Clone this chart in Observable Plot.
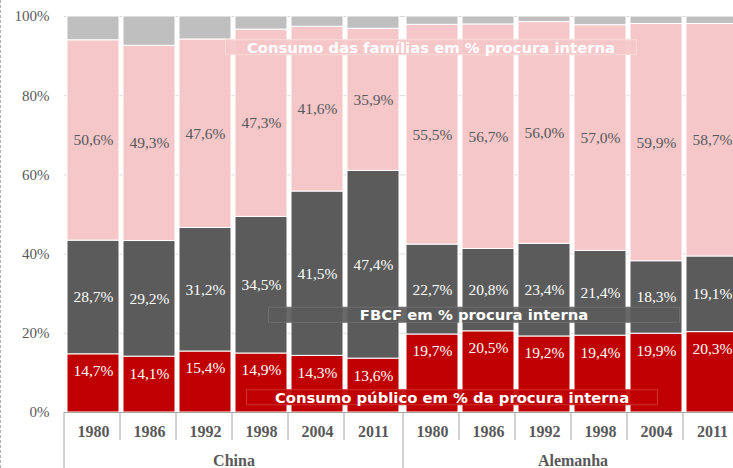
<!DOCTYPE html>
<html><head><meta charset="utf-8">
<script src="https://cdn.jsdelivr.net/npm/d3@7"></script>
<script src="https://cdn.jsdelivr.net/npm/@observablehq/plot@0.6"></script>
<style>
body{margin:0;background:#fff;overflow:hidden}
#wrap{position:relative;width:733px;height:468px;overflow:hidden}
#wrap svg{display:block}
#border{position:absolute;left:0;top:0;width:0;height:468px;border-left:1px dashed #b0b0b0;z-index:2}
</style></head><body><div id="wrap"><div id="border"></div></div>
<script>
// ---- data ----
const countries = ["China", "Alemanha"];
const years = ["1980", "1986", "1992", "1998", "2004", "2011"];
const seriesNames = ["Consumo público", "FBCF", "Consumo das famílias", "Outros"];
const publicoChina    = [14.7, 14.1, 15.4, 14.9, 14.3, 13.6];
const publicoAlemanha = [19.7, 20.5, 19.2, 19.4, 19.9, 20.3];
const fbcfChina       = [28.7, 29.2, 31.2, 34.5, 41.5, 47.4];
const fbcfAlemanha    = [22.7, 20.8, 23.4, 21.4, 18.3, 19.1];
const familiasChina    = [50.6, 49.3, 47.6, 47.3, 41.6, 35.9];
const familiasAlemanha = [55.5, 56.7, 56.0, 57.0, 59.9, 58.7];
const outrosChina      = [6.0, 7.4, 5.8, 3.3, 2.6, 3.1];
const outrosAlemanha   = [2.1, 2.0, 1.4, 2.2, 1.9, 1.9];
const yTicks = [0, 20, 40, 60, 80, 100];
const annotLabels = ["Consumo das famílias em % procura interna", "FBCF em % procura interna", "Consumo público em % da procura interna"];
const annotCountry = ["Alemanha", "Alemanha", "Alemanha"];
const annotYear = ["1980", "1980", "1980"];
const annotY = [92.05, 24.5, 3.66];

// ---- table ----
const bySeries = {
  China: [publicoChina, fbcfChina, familiasChina, outrosChina],
  Alemanha: [publicoAlemanha, fbcfAlemanha, familiasAlemanha, outrosAlemanha]
};
const rows = [];
countries.forEach(c => years.forEach((yr, i) => seriesNames.forEach((s, k) => {
  rows.push({country: c, year: yr, series: s, value: bySeries[c][k][i]});
})));
const fmt = v => v.toFixed(1).replace(".", ",") + "%";
const colors = ["#C00000", "#5A5B5A", "#F5C7C9", "#BFBFBF"];
const annotFill = ["#F5C7C9", "#5A5B5A", "#C00000"];
const annotStroke = ["#f9dadb", "#6e6e6e", "#cf2f2f"];
const annotDx = [-1.5, 41.5, 19.5];
const serif = "Liberation Serif";
const sans = "DejaVu Sans";

const annotMarks = annotLabels.map((t, i) => Plot.text([i], {
  fx: j => annotCountry[j], x: j => annotYear[j], y: j => annotY[j], text: j => annotLabels[j],
  dx: annotDx[i], fill: "white", fontFamily: sans, fontWeight: "bold", fontSize: 14.8
}));

const plot = Plot.plot({
  width: 733, height: 468,
  marginTop: 16, marginBottom: 56, marginLeft: 63, marginRight: -9,
  style: {fontFamily: serif, background: "white"},
  fx: {domain: countries, padding: 0, axis: null, label: null},
  x: {domain: years, paddingInner: 0.064, paddingOuter: 0.032, axis: null, label: null},
  y: {domain: [0, 100], axis: null, label: null},
  color: {domain: seriesNames, range: colors},
  marks: [
    Plot.gridY(yTicks.slice(1), {stroke: "#d9d9d9", strokeOpacity: 1}),
    Plot.barY(rows, {fx: "country", x: "year", y: "value", fill: "series", stroke: "white", strokeWidth: 1}),
    Plot.ruleY([0], {stroke: "#a6a6a6"}),
    Plot.axisY({ticks: yTicks, tickFormat: d => d + "%", tickSize: 0, tickPadding: 15, fontSize: 15, fontFamily: serif, color: "#595959", label: null}),
    Plot.axisX({tickSize: 0, tickPadding: 13.6, fontSize: 16, fontWeight: "bold", fontFamily: serif, color: "#595959", label: null}),
    Plot.axisFx({anchor: "bottom", tickSize: 0, tickPadding: 42, fontSize: 16, fontWeight: "bold", fontFamily: serif, color: "#595959", label: null}),
    Plot.text(rows, Plot.stackY({fx: "country", x: "year", y: "value", z: "series",
      text: d => d.series === "Consumo das famílias" ? fmt(d.value) : "", fill: "#595959", fontSize: 15.5, fontFamily: serif})),
    Plot.text(rows, Plot.stackY({fx: "country", x: "year", y: "value", z: "series",
      text: d => d.series === "FBCF" ? fmt(d.value) : "", fill: "white", fontSize: 15.5, fontFamily: serif})),
    Plot.text(rows, Plot.stackY2({fx: "country", x: "year", y: "value", z: "series",
      text: d => d.series === "Consumo público" ? fmt(d.value) : "", fill: "white", fontSize: 15.5, fontFamily: serif, dy: 17})),
    ...annotMarks
  ]
});
document.getElementById("wrap").appendChild(plot);

// ---- decorations using the plot's scales ----
const svgEl = plot.tagName.toLowerCase() === "svg" ? plot : plot.querySelector("svg");
const svg = d3.select(svgEl);
const fxS = plot.scale("fx"), xS = plot.scale("x"), yS = plot.scale("y");
const step = xS.apply(years[1]) - xS.apply(years[0]);
const half = (step - xS.bandwidth) / 2;
const y0 = yS.apply(0);
const H = 468;
const lines = [];
countries.forEach(c => {
  const off = fxS.apply(c) - fxS.apply(countries[0]);
  years.forEach((yr, i) => lines.push({x: off + xS.apply(yr) - half, long: i === 0}));
});
svg.append("g").selectAll("line").data(lines).join("line")
  .attr("x1", d => d.x).attr("x2", d => d.x)
  .attr("y1", y0).attr("y2", d => d.long ? H : y0 + 28)
  .attr("stroke", "#a6a6a6").attr("stroke-width", 1);

// annotation boxes behind annotation texts
const allTexts = Array.from(svgEl.querySelectorAll("text"));
annotLabels.forEach((t, i) => {
  const te = allTexts.find(e => e.textContent === t);
  if (!te) return;
  const b = te.getBBox();
  const m = te.getCTM();
  const cx = m.a * (b.x + b.width / 2) + m.e;
  const cy = m.d * (b.y + b.height / 2) + m.f;
  let top = te; while (top.parentNode !== svgEl) top = top.parentNode;
  const r = document.createElementNS("http://www.w3.org/2000/svg", "rect");
  r.setAttribute("x", cx - 205.5); r.setAttribute("y", cy - 7.5);
  r.setAttribute("width", 411); r.setAttribute("height", 15);
  r.setAttribute("fill", annotFill[i]); r.setAttribute("fill-opacity", 0.92);
  r.setAttribute("stroke", annotStroke[i]); r.setAttribute("stroke-width", 1);
  svgEl.insertBefore(r, top);
});
</script></body></html>
